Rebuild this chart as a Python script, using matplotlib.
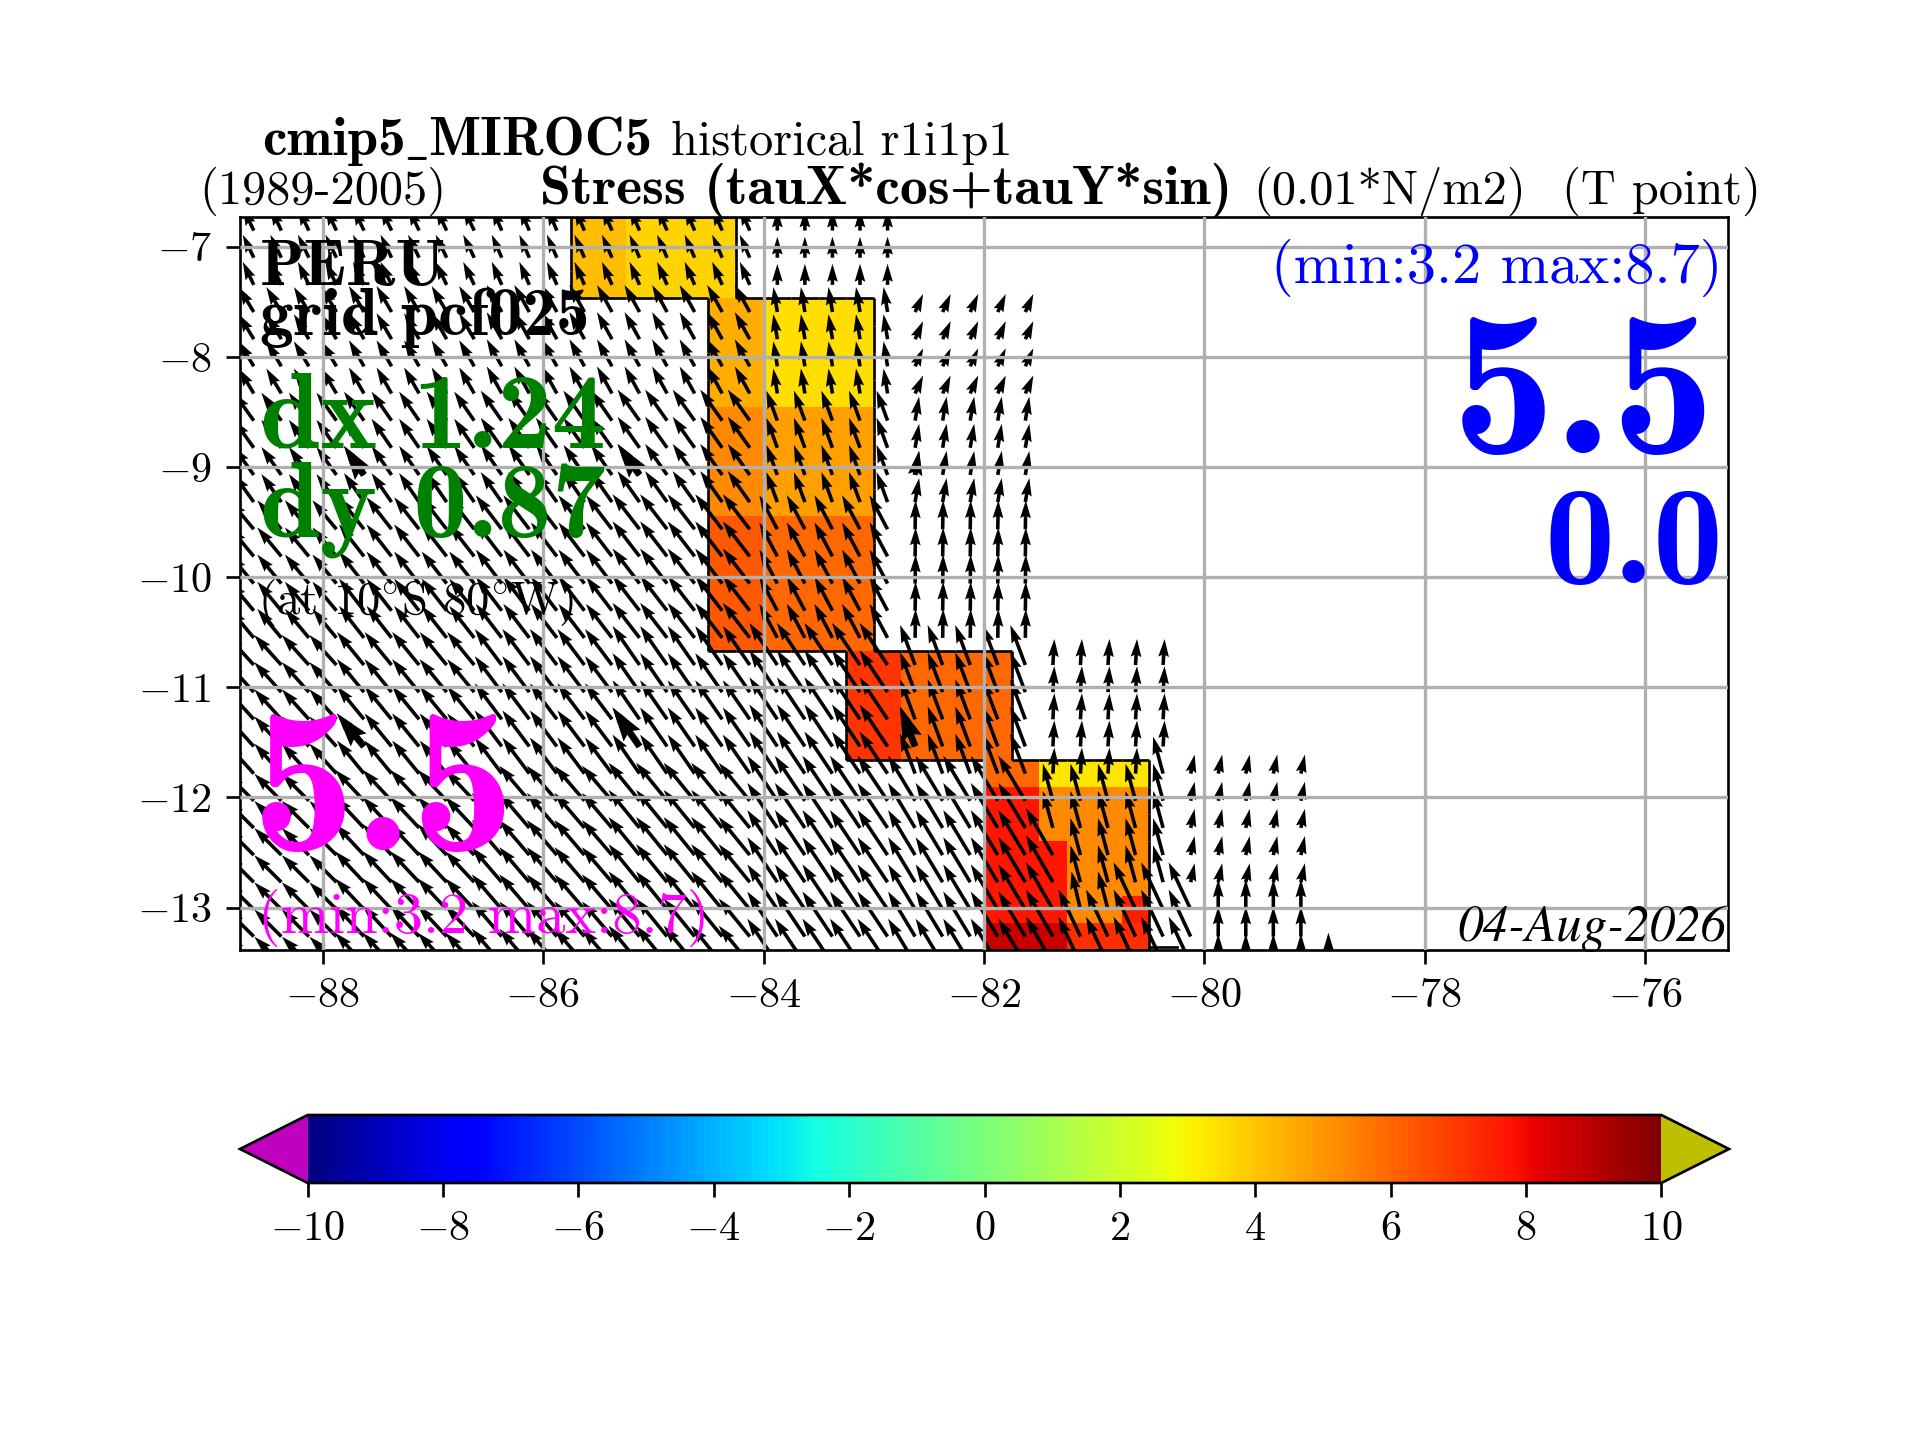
import numpy as np
import matplotlib
matplotlib.use("Agg")
import matplotlib.pyplot as plt
from matplotlib.collections import LineCollection

plt.rcParams["font.family"] = ["cmr10", "DejaVu Serif"]
plt.rcParams["mathtext.fontset"] = "cm"
plt.rcParams["axes.formatter.use_mathtext"] = True

# model grid
lon_edges = np.arange(-88.75, -75.0, 0.25)
lat_top = -6.73
lat_step = 0.2465
n_rows = 28

# shaded cells: west, east, first row, last row, value
block_west = [-85.75, -85.25, -84.5, -84.0, -84.5, -84.0, -84.5, -84.0, -83.25, -82.75,
              -82.0, -81.5, -82.0, -81.5, -81.5, -81.25, -80.75, -80.75, -82.0, -81.25]
block_east = [-85.25, -84.25, -84.0, -83.0, -84.0, -83.0, -84.0, -83.0, -82.75, -81.75,
              -81.5, -80.5, -81.5, -81.25, -81.25, -80.75, -80.5, -80.5, -81.25, -80.5]
block_row0 = [0, 0, 3, 3, 7, 7, 11, 11, 16, 16, 20, 20, 21, 21, 23, 21, 21, 25, 26, 26]
block_row1 = [3, 3, 7, 7, 11, 11, 16, 16, 20, 20, 21, 21, 26, 23, 26, 26, 25, 26, 27, 27]
block_value = [4.15, 3.7, 4.5, 3.5, 5.3, 4.8, 6.3, 6.0, 7.1, 6.0,
               6.0, 3.3, 7.66, 5.3, 7.66, 5.3, 5.3, 7.5, 8.7, 7.2]

# stress arrows by column group and row group
group_first_lon = [-88.625, -87.625, -86.375, -85.125, -83.875, -82.625, -81.375, -80.125, -78.875]
group_n_cols = [4, 5, 5, 5, 5, 5, 5, 5, 1]
row_group_first = [0, 3, 7, 11, 16, 21, 25]
row_group_last = [2, 6, 10, 15, 20, 24, 27]
n = np.nan
tau_x = [
    [-1.1, -1.1, -1.0, -1.0, 0.0, n, n, n, n],
    [-1.5, -1.5, -1.5, -1.5, -0.4, 0.8, n, n, n],
    [-2.0, -2.0, -2.1, -2.2, -1.1, 0.4, n, n, n],
    [-2.4, -2.5, -2.6, -2.7, -1.8, 0.05, n, n, n],
    [-2.7, -2.7, -2.7, -2.7, -2.8, -1.5, 0.15, n, n],
    [-2.7, -2.9, -3.0, -3.1, -3.0, -2.7, -1.0, 0.4, n],
    [-2.7, -2.9, -3.0, -3.1, -3.0, -2.7, -2.2, 0.0, n],
]
tau_y = [
    [2.3, 2.3, 2.3, 2.3, 2.1, n, n, n, n],
    [2.5, 2.6, 2.7, 2.7, 2.5, 1.8, n, n, n],
    [2.8, 2.9, 3.0, 3.1, 3.0, 2.4, n, n, n],
    [2.9, 3.2, 3.4, 3.5, 3.4, 2.9, n, n, n],
    [3.0, 3.3, 3.6, 3.9, 4.2, 4.0, 2.6, n, n],
    [2.7, 3.1, 3.5, 3.8, 4.5, 4.5, 3.7, 1.9, n],
    [2.7, 3.1, 3.5, 3.8, 4.5, 4.5, 4.7, 3.0, n],
]
# single arrows that differ from their group: lon, row, x, y
odd_lon = [-81.375, -81.375, -81.375, -81.375, -81.375, -81.125, -80.875, -80.375,
           -80.125, -80.125, -80.125, -78.875,
           -80.125, -79.875, -79.625, -79.375, -79.125]
odd_row = [23, 24, 25, 26, 27, 25, 25, 20, 25, 26, 27, 27, 20, 20, 20, 20, 20]
odd_x = [-2.7, -2.7, -2.7, -2.7, -2.7, -0.9, -1.0, -1.0, -2.2, -2.2, -2.2, 0.0,
         0.4, 0.4, 0.4, 0.4, 0.4]
odd_y = [4.7, 4.7, 4.7, 4.7, 4.7, 3.8, 3.8, 3.7, 4.7, 4.7, 4.7, 3.1,
         1.9, 1.9, 1.9, 1.9, 1.9]
# heavier arrows
heavy_lon = [-87.625, -85.125, -82.625]
heavy_row = [9, 19]

coast_lon = [-80.5, -80.25]
coast_lat = [-13.36, -13.36]

x_ticks = [-88, -86, -84, -82, -80, -78, -76]
y_ticks = [-7, -8, -9, -10, -11, -12, -13]
cbar_ticks = [-10, -8, -6, -4, -2, 0, 2, 4, 6, 8, 10]

lat_edges = lat_top - lat_step * np.arange(n_rows + 1)
lat_mid = 0.5 * (lat_edges[:-1] + lat_edges[1:])
lon_mid = 0.5 * (lon_edges[:-1] + lon_edges[1:])

field = np.full((n_rows, len(lon_mid)), np.nan)
for w, e, r0, r1, val in zip(block_west, block_east, block_row0, block_row1, block_value):
    cols = (lon_mid > w) & (lon_mid < e)
    field[r0:r1, cols] = val

arrow_x = {}
for g, lon0 in enumerate(group_first_lon):
    for c in range(group_n_cols[g]):
        for rg in range(len(row_group_first)):
            for r in range(row_group_first[rg], row_group_last[rg] + 1):
                arrow_x[(lon0 + 0.25 * c, r)] = (tau_x[rg][g], tau_y[rg][g])
for lon, r, tx, ty in zip(odd_lon, odd_row, odd_x, odd_y):
    arrow_x[(lon, r)] = (tx, ty)

keys = [k for k, val in arrow_x.items() if not np.isnan(val[0])]
ax_lon = np.array([k[0] for k in keys])
ax_lat = lat_top - lat_step * (np.array([k[1] for k in keys]) + 0.5)
ax_u = np.array([arrow_x[k][0] for k in keys])
ax_v = np.array([arrow_x[k][1] for k in keys])

fig = plt.figure(figsize=(8, 6), dpi=240)
ax = fig.add_axes([0.125, 1 - 949.5 / 1440, 0.775, (949.5 - 217) / 1440])

cmap = plt.get_cmap("jet").copy()
cmap.set_under((0.75, 0, 0.75))
cmap.set_over((0.75, 0.75, 0))
mesh = ax.pcolormesh(lon_edges, lat_edges, np.ma.masked_invalid(field),
                     cmap=cmap, vmin=-10, vmax=10, zorder=1)

# black outline round the shaded cells
segs = []
mask = ~np.isnan(field)
for r in range(n_rows):
    for c in range(len(lon_mid)):
        if not mask[r, c]:
            continue
        if r == 0 or not mask[r - 1, c]:
            segs.append([(lon_edges[c], lat_edges[r]), (lon_edges[c + 1], lat_edges[r])])
        if r == n_rows - 1 or not mask[r + 1, c]:
            segs.append([(lon_edges[c], lat_edges[r + 1]), (lon_edges[c + 1], lat_edges[r + 1])])
        if c == 0 or not mask[r, c - 1]:
            segs.append([(lon_edges[c], lat_edges[r]), (lon_edges[c], lat_edges[r + 1])])
        if c == len(lon_mid) - 1 or not mask[r, c + 1]:
            segs.append([(lon_edges[c + 1], lat_edges[r]), (lon_edges[c + 1], lat_edges[r + 1])])
ax.add_collection(LineCollection(segs, colors="k", linewidths=0.8, zorder=1.5))
ax.plot(coast_lon, coast_lat, color="k", lw=0.8, zorder=1.5)

q_scale = 11.02
ax.quiver(ax_lon, ax_lat, ax_u, ax_v, angles="xy", scale_units="xy", scale=q_scale,
          pivot="tail", width=0.0024, color="k", zorder=1.7)
hv = [k for k in keys if k[0] in heavy_lon and k[1] in heavy_row]
ax.quiver([k[0] for k in hv], [lat_top - lat_step * (k[1] + 0.5) for k in hv],
          [arrow_x[k][0] for k in hv], [arrow_x[k][1] for k in hv],
          angles="xy", scale_units="xy", scale=q_scale, pivot="tail",
          width=0.0046, color="k", zorder=1.7)

ax.set_xlim(-88.75, -75.25)
ax.set_ylim(-13.38, -6.73)
ax.set_xticks(x_ticks)
ax.set_xticklabels([f"$-{abs(t)}$" for t in x_ticks], fontsize=12.7)
ax.set_yticks(y_ticks)
ax.set_yticklabels([f"$-{abs(t)}$" for t in y_ticks], fontsize=12.7)
ax.tick_params(length=4.2, pad=4.2)
ax.grid(True, color="#b0b0b0", lw=1.0)
ax.set_axisbelow(False)


def put(px, py, s, **kw):
    # px, py: figure pixels from the top left
    fig.text(px / 1920, 1 - py / 1440, s, va="baseline", zorder=5, **kw)


put(262, 155, "cmip5", fontsize=16.5, family="cmb10")
put(404, 155, r"$\_$", fontsize=14)
put(428, 155, "MIROC5", fontsize=16.5, family="cmb10")
put(671, 155, "historical r1i1p1", fontsize=14.5)
put(199, 204, "(1989-2005)", fontsize=14.5)
put(540, 204, "Stress (tauX*cos+tauY*sin)", fontsize=16.7, family="cmb10")
put(1253, 204, "(0.01*N/m2)", fontsize=14.5)
put(1562, 204, "(T point)", fontsize=14.5)

put(260, 285, "PERU", fontsize=19.5, family="cmb10")
put(260, 335, "grid pcf025", fontsize=20.2, family="cmb10")
put(260, 447, "dx 1.24", fontsize=32.5, family="cmb10", color="green")
put(260, 536, "dy 0.87", fontsize=32.5, family="cmb10", color="green")
put(258, 614, r"(at 10$^{\circ}$S 80$^{\circ}$W)", fontsize=14)
put(252, 850, "5.5", fontsize=62, family="cmb10", color="magenta")
put(258, 933, "(min:3.2 max:8.7)", fontsize=17.5, color="magenta")
put(1716, 453, "5.5", fontsize=62, family="cmb10", color="blue", ha="right")
put(1722, 283, "(min:3.2 max:8.7)", fontsize=17.5, color="blue", ha="right")
put(1724, 583, "0.0", fontsize=42, family="cmb10", color="blue", ha="right")
put(1726, 941, "04-Aug-2026", fontsize=15.3, family="STIXGeneral", style="italic", ha="right")

cax = fig.add_axes([240 / 1920, 1 - 1183 / 1440, 1489 / 1920, 68 / 1440])
cb = fig.colorbar(mesh, cax=cax, orientation="horizontal", extend="both", ticks=cbar_ticks)
cb.ax.set_xticklabels([f"$-{abs(t)}$" if t < 0 else f"${t}$" for t in cbar_ticks], fontsize=12.7)
cb.ax.tick_params(length=4.2, pad=4.2)

fig.savefig("out.png", dpi=240)
